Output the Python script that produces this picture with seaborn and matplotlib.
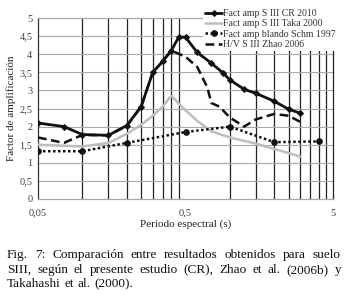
import numpy as np
import pandas as pd
import seaborn as sns
import matplotlib.pyplot as plt
from matplotlib.ticker import FixedLocator, NullFormatter

sns.set_theme(style="white")
plt.rcParams['font.family'] = ['Liberation Serif', 'DejaVu Serif']

# Data (period in s, amplification factor)
cr_t = [0.05, 0.075, 0.1, 0.15, 0.2, 0.25, 0.3, 0.35, 0.4, 0.45, 0.5, 0.6,
        0.75, 0.9, 1.0, 1.25, 1.5, 2.0, 2.5, 3.0]
cr_v = [2.1, 2.0, 1.78, 1.76, 2.03, 2.55, 3.5, 3.8, 4.1, 4.47, 4.47, 4.05,
        3.75, 3.48, 3.29, 3.03, 2.92, 2.7, 2.48, 2.37]

taka_t = [0.05, 0.1, 0.15, 0.2, 0.25, 0.3, 0.35, 0.4, 0.5, 0.6, 0.75, 1.0,
          1.5, 2.0, 2.5, 3.0]
taka_v = [1.5, 1.45, 1.55, 1.8, 2.05, 2.3, 2.55, 2.85, 2.45, 2.16, 1.87, 1.7,
          1.53, 1.38, 1.27, 1.17]

schm_t = [0.05, 0.1, 0.2, 0.5, 1.0, 2.0, 4.0]
schm_v = [1.32, 1.32, 1.55, 1.85, 2.0, 1.57, 1.59]

zhao_t = [0.05, 0.075, 0.1, 0.15, 0.2, 0.25, 0.3, 0.35, 0.4, 0.5, 0.6, 0.7,
          0.75, 0.85, 1.0, 1.25, 1.5, 2.0, 2.5, 3.0]
zhao_v = [1.7, 1.55, 1.77, 1.76, 2.02, 2.55, 3.5, 3.8, 4.1, 3.93, 3.65, 3.1,
          2.65, 2.55, 2.25, 2.0, 2.2, 2.35, 2.3, 2.13]

labels = ["Fact amp S III CR 2010", "Fact amp S III Taka 2000",
          "Fact amp blando Schm 1997", "H/V S III Zhao 2006"]

x_ticks = [0.05, 0.5, 5]
x_tick_labels = ["0,05", "0,5", "5"]
y_ticks = [0, 0.5, 1, 1.5, 2, 2.5, 3, 3.5, 4, 4.5, 5]

W, H = 346, 298
fig = plt.figure(figsize=(W / 100, H / 100), dpi=100)
fig.patch.set_facecolor("white")
ax = fig.add_axes([38 / W, 1 - 199 / H, 295 / W, 181 / H])

sns.lineplot(x=taka_t, y=taka_v, ax=ax, color="#bdbdbd", lw=1.8,
             label=labels[1], zorder=3)
sns.lineplot(x=schm_t, y=schm_v, ax=ax, color="#111111", lw=1.8,
             linestyle=(0, (1, 1)), marker="o", ms=4, mec="#111111",
             label=labels[2], zorder=4)
sns.lineplot(x=zhao_t, y=zhao_v, ax=ax, color="#111111", lw=1.8,
             linestyle=(0, (3.5, 1.8)), label=labels[3], zorder=4)
sns.lineplot(x=cr_t, y=cr_v, ax=ax, color="#111111", lw=2,
             marker="D", ms=3, mec="#111111", label=labels[0], zorder=5)

ax.set_xscale("log")
ax.set_xlim(0.05, 5)
ax.set_ylim(0, 5)
ax.xaxis.set_major_locator(FixedLocator(x_ticks))
ax.set_xticklabels(x_tick_labels)
minor = [0.05 * k for k in range(2, 10)] + [0.5 * k for k in range(2, 10)]
ax.xaxis.set_minor_locator(FixedLocator(minor))
ax.xaxis.set_minor_formatter(NullFormatter())
ax.set_yticks(y_ticks)
ax.set_yticklabels([f"{v:g}".replace(".", ",") for v in y_ticks])

ax.grid(False)
for v in minor:
    ax.axvline(v, color="#222222", lw=0.9, zorder=1)
for v in y_ticks[1:-1]:
    ax.axhline(v, color="#a8a8a8", lw=0.8, zorder=1)

ax.spines["left"].set_color("#333333")
ax.spines["right"].set_color("#222222")
ax.spines["top"].set_color("#a8a8a8")
ax.spines["bottom"].set_color("#a8a8a8")
for s in ax.spines.values():
    s.set_linewidth(0.9)

ax.tick_params(axis="both", length=0, labelsize=7.5, labelcolor="#404040")
ax.tick_params(axis="x", pad=7)
ax.tick_params(axis="y", pad=4)
ax.set_xlabel("Periodo espectral (s)", fontsize=8, color="#222222", labelpad=1)
ax.set_ylabel("")
fig.text(11 / W, 1 - 108 / H, "Factor de amplificación", rotation=90,
         ha="center", va="center", fontsize=8, color="#222222")

h, l = ax.get_legend_handles_labels()
order = [l.index(s) for s in labels]
leg = ax.legend([h[i] for i in order], [l[i] for i in order],
                loc="upper left", bbox_to_anchor=(203 / W, 1 - 7 / H),
                bbox_transform=fig.transFigure, fontsize=7, frameon=True,
                framealpha=1, edgecolor="none", facecolor="white",
                handlelength=1.8, handletextpad=0.1, labelspacing=0.15,
                borderpad=0.2, borderaxespad=0)
for t in leg.get_texts():
    t.set_color("#333333")
leg.set_zorder(10)

# Justified caption below the chart
renderer = fig.canvas.get_renderer()


def caption_line(text, y_px, x0=7, x1=341, justify=True, size=9.5):
    words = text.split(" ")
    arts = [fig.text(0, 1 - y_px / H, w, fontsize=size, color="#111111",
                     va="baseline", ha="left") for w in words]
    widths = [a.get_window_extent(renderer).width for a in arts]
    if justify and len(words) > 1:
        gap = (x1 - x0 - sum(widths)) / (len(words) - 1)
    else:
        gap = size * 100 / 72 * 0.28
    x = x0
    for a, w in zip(arts, widths):
        a.set_x(x / W)
        x += w + gap


caption_line("Fig. 7: Comparación entre resultados obtenidos para suelo", 258)
caption_line("SIII, según el presente estudio (CR), Zhao et al. (2006b) y", 273)
caption_line("Takahashi et al. (2000).", 287, justify=False)

fig.savefig("out.png", dpi=100)
